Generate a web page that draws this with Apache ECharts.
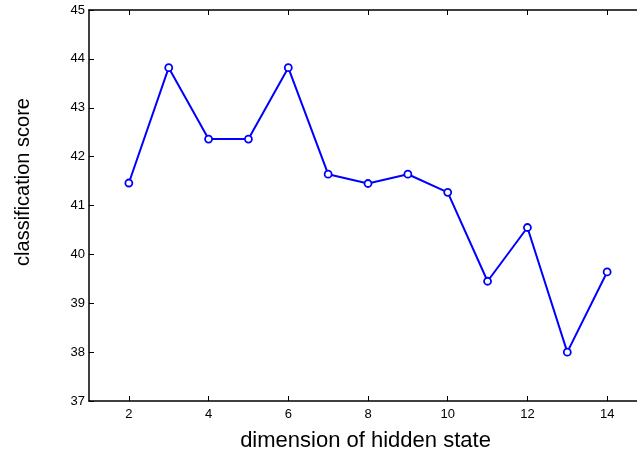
<!DOCTYPE html>
<html>
<head>
<meta charset="utf-8">
<script src="https://cdn.jsdelivr.net/npm/echarts@6/dist/echarts.min.js"></script>
<style>html,body{margin:0;padding:0;background:#fff}#c{width:637px;height:452px}</style>
</head>
<body>
<div id="c"></div>
<script>
var dims = [2, 3, 4, 5, 6, 7, 8, 9, 10, 11, 12, 13, 14];
var scores = [41.46, 43.82, 42.36, 42.36, 43.82, 41.64, 41.45, 41.64, 41.27, 39.45, 40.55, 38.0, 39.64];
var xTicks = [2, 4, 6, 8, 10, 12, 14];
var xTitle = 'dimension of hidden state';
var yTitle = 'classification score';

var font = 'Liberation Sans, Arial, Helvetica, sans-serif';
var chart = echarts.init(document.getElementById('c'), null, {renderer: 'canvas'});
var data = dims.map(function (d, i) { return [d, scores[i]]; });
chart.setOption({
  animation: false,
  backgroundColor: '#fff',
  grid: {left: 89, top: 10, width: 558, height: 391, outerBoundsMode: 'none', containLabel: false},
  xAxis: [{
    type: 'value', min: 1, max: 15, interval: 1,
    position: 'bottom',
    axisLine: {show: true, onZero: false, lineStyle: {color: '#000', width: 1.5}},
    axisTick: {show: true, inside: true, length: 5, lineStyle: {color: '#000'}, customValues: xTicks},
    axisLabel: {fontFamily: font, fontSize: 13, color: '#000', margin: 7, customValues: xTicks},
    splitLine: {show: false}
  }, {
    type: 'value', min: 1, max: 15, interval: 1,
    position: 'top',
    axisLine: {show: true, onZero: false, lineStyle: {color: '#000', width: 1.5}},
    axisTick: {show: true, inside: true, length: 5, lineStyle: {color: '#000'}, customValues: xTicks},
    axisLabel: {show: false},
    splitLine: {show: false}
  }],
  yAxis: [{
    type: 'value', min: 37, max: 45, interval: 1,
    axisLine: {show: true, onZero: false, lineStyle: {color: '#000', width: 1.5}},
    axisTick: {show: true, inside: true, length: 5, lineStyle: {color: '#000'}},
    axisLabel: {fontFamily: font, fontSize: 13, color: '#000', margin: 4},
    splitLine: {show: false}
  }],
  graphic: [{
    type: 'text', x: 23, y: 182, rotation: Math.PI / 2,
    style: {text: yTitle, font: '20px ' + font, fill: '#000', align: 'center', verticalAlign: 'middle'}
  }, {
    type: 'text', x: 365.5, y: 441,
    style: {text: xTitle, font: '22px ' + font, fill: '#000', align: 'center', verticalAlign: 'middle'}
  }],
  series: [{
    type: 'line', xAxisIndex: 0, yAxisIndex: 0, data: data,
    symbol: 'circle', symbolSize: 7, showAllSymbol: true,
    lineStyle: {color: '#0000ff', width: 2},
    itemStyle: {color: '#fff', borderColor: '#0000ff', borderWidth: 1.8}
  }]
});
</script>
</body>
</html>
